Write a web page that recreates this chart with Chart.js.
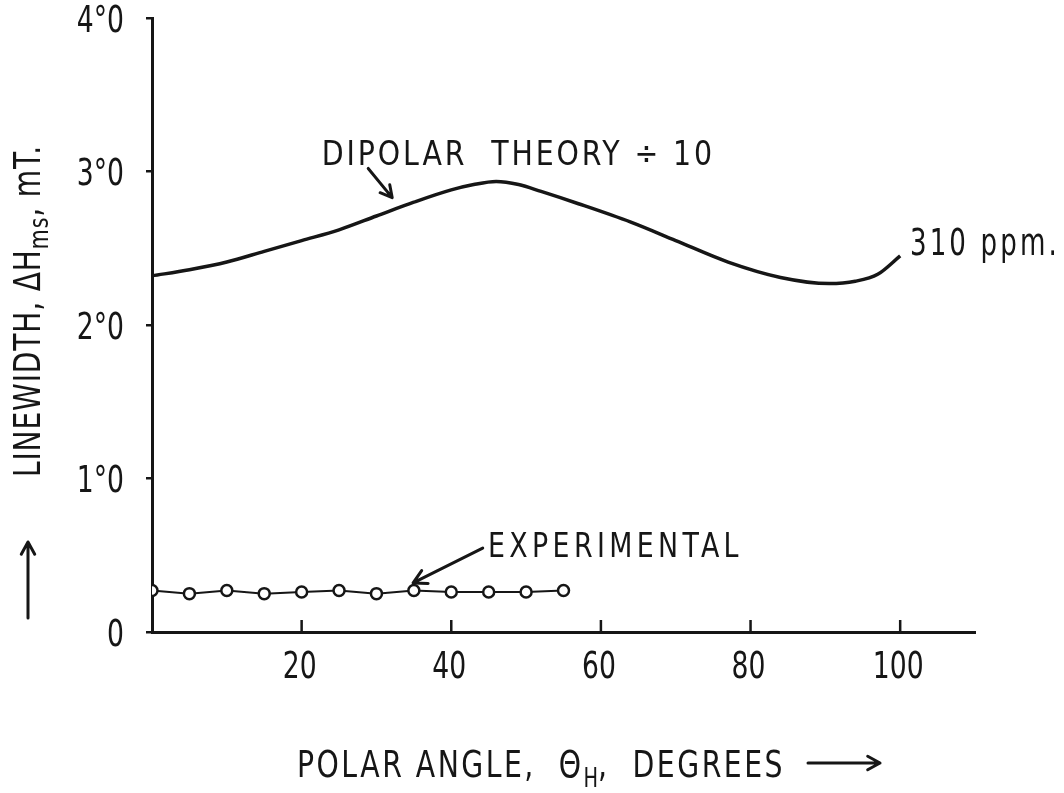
<!DOCTYPE html>
<html>
<head>
<meta charset="utf-8">
<script src="https://cdn.jsdelivr.net/npm/chart.js@4/dist/chart.umd.min.js"></script>
<style>
  html, body { margin: 0; padding: 0; background: #ffffff; }
  #wrap { width: 1064px; height: 793px; }
</style>
</head>
<body>
<div id="wrap"><canvas id="c" width="1064" height="793"></canvas></div>
<script>
// Dipolar theory linewidth (divided by 10) against polar angle, 310 ppm
const theoryAngle = [0, 5, 10, 15, 20, 25, 30, 35, 40, 43, 46, 49, 52, 57, 64, 70, 77, 84, 90.5, 94, 97, 100];
const theoryWidth = [2.32, 2.36, 2.41, 2.48, 2.55, 2.62, 2.71, 2.80, 2.88, 2.915, 2.935, 2.915, 2.87, 2.79, 2.67, 2.55, 2.41, 2.31, 2.27, 2.285, 2.33, 2.45];

// Measured linewidths
const expAngle = [0, 5, 10, 15, 20, 25, 30, 35, 40, 45, 50, 55];
const expWidth = [0.27, 0.25, 0.27, 0.25, 0.26, 0.27, 0.25, 0.27, 0.26, 0.26, 0.26, 0.27];

// Axis ticks
const xTickValues = [20, 40, 60, 80, 100];
const xTickLabels = ['20', '40', '60', '80', '100'];
const yTickValues = [0, 1, 2, 3, 4];
const yTickLabels = ['0', '1°0', '2°0', '3°0', '4°0'];

const INK = '#161616';
const FONT = '"DejaVu Sans Condensed", "DejaVu Sans", sans-serif';
const SQUEEZE = 0.8;   // narrow lettering

function toPoints(xs, ys) {
  return xs.map((x, i) => ({ x: x, y: ys[i] }));
}

function arrow(ctx, x1, y1, x2, y2, head, lw) {
  const a = Math.atan2(y2 - y1, x2 - x1);
  ctx.save();
  ctx.strokeStyle = INK;
  ctx.lineWidth = lw;
  ctx.lineCap = 'round';
  ctx.lineJoin = 'round';
  ctx.beginPath();
  ctx.moveTo(x1, y1);
  ctx.lineTo(x2, y2);
  ctx.moveTo(x2 - head * Math.cos(a - 0.5), y2 - head * Math.sin(a - 0.5));
  ctx.lineTo(x2, y2);
  ctx.lineTo(x2 - head * Math.cos(a + 0.5), y2 - head * Math.sin(a + 0.5));
  ctx.stroke();
  ctx.restore();
}

// Draws a run of text pieces [text, size, dy, spacing] from (x, y), fitted to the given width
function textRun(ctx, pieces, x, y, width) {
  const setFont = p => {
    ctx.font = p[1] + 'px ' + FONT;
    ctx.letterSpacing = (p[3] || 0) + 'px';
  };
  let natural = 0;
  pieces.forEach(p => { setFont(p); natural += ctx.measureText(p[0]).width; });
  const k = width / natural;
  ctx.save();
  ctx.translate(x, y);
  ctx.scale(k, 1);
  ctx.textAlign = 'left';
  ctx.textBaseline = 'alphabetic';
  let cx = 0;
  pieces.forEach(p => {
    setFont(p);
    ctx.fillText(p[0], cx, p[2] || 0);
    cx += ctx.measureText(p[0]).width;
  });
  ctx.restore();
  ctx.letterSpacing = '0px';
}

function squeezedLabel(ctx, text, x, y, size, align) {
  ctx.save();
  ctx.font = size + 'px ' + FONT;
  ctx.translate(x, y);
  ctx.scale(SQUEEZE, 1);
  ctx.textAlign = align;
  ctx.textBaseline = 'middle';
  ctx.fillText(text, 0, 0);
  ctx.restore();
}

// Tick marks and labels, annotations and axis titles
const decorations = {
  id: 'decorations',
  afterDraw(chart) {
    const ctx = chart.ctx;
    const xs = chart.scales.x, ys = chart.scales.y;
    const px = v => xs.getPixelForValue(v);
    const py = v => ys.getPixelForValue(v);
    const area = chart.chartArea;

    ctx.save();
    ctx.strokeStyle = INK;
    ctx.fillStyle = INK;

    // inward ticks on the angle axis
    ctx.lineWidth = 2.5;
    ctx.beginPath();
    xTickValues.forEach(v => {
      ctx.moveTo(px(v), area.bottom);
      ctx.lineTo(px(v), area.bottom - 12);
    });
    ctx.stroke();

    // tick labels
    xTickValues.forEach((v, i) => squeezedLabel(ctx, xTickLabels[i], px(v) - 2, area.bottom + 36, 37, 'center'));
    yTickValues.forEach((v, i) => squeezedLabel(ctx, yTickLabels[i], area.left - 28, py(v) + 4, 37, 'right'));

    // curve labels
    textRun(ctx, [['DIPOLAR  THEORY ÷ 10', 33, 0, 3]], px(22.7), py(3.04), 393);
    arrow(ctx, px(28.9), py(3.02), px(32.1), py(2.83), 13, 3);
    textRun(ctx, [['310 ppm.', 37, 0, 4]], px(101.3), py(2.456), 150);
    textRun(ctx, [['EXPERIMENTAL', 34, 0, 5]], px(44.9), py(0.49), 255);
    arrow(ctx, px(44.2), py(0.547), px(34.9), py(0.32), 15, 3);

    // vertical axis title
    ctx.save();
    ctx.translate(40, 477);
    ctx.rotate(-Math.PI / 2);
    textRun(ctx, [['LINEWIDTH, ΔH', 37, 0, 1], ['ms', 27, 8, 1], [', mT.', 37, 0, 1]], 0, 0, 332);
    ctx.restore();
    arrow(ctx, 28, 618, 28, 542, 14, 3);

    // horizontal axis title
    textRun(ctx, [['POLAR ANGLE,  Θ', 38, 0, 3], ['H', 26, 10, 0], [',  DEGREES', 38, 0, 3]], 297, 777, 488);
    arrow(ctx, 808, 763, 880, 763, 14, 3);

    ctx.restore();
  }
};

new Chart(document.getElementById('c'), {
  type: 'scatter',
  data: {
    datasets: [
      {
        label: 'Dipolar theory ÷ 10',
        data: toPoints(theoryAngle, theoryWidth),
        showLine: true,
        borderColor: INK,
        borderWidth: 3.5,
        pointRadius: 0,
        cubicInterpolationMode: 'monotone',
        fill: false
      },
      {
        label: 'Experimental',
        data: toPoints(expAngle, expWidth),
        showLine: true,
        borderColor: INK,
        borderWidth: 2,
        pointRadius: 5.5,
        pointBorderWidth: 2.5,
        pointBackgroundColor: '#ffffff',
        pointBorderColor: INK,
        tension: 0
      }
    ]
  },
  options: {
    responsive: false,
    animation: false,
    devicePixelRatio: 1,
    layout: { padding: { left: 0, right: 89, top: 18, bottom: 0 } },
    plugins: { legend: { display: false }, tooltip: { enabled: false } },
    scales: {
      x: {
        type: 'linear',
        min: 0,
        max: 110,
        afterBuildTicks: s => { s.ticks = xTickValues.map(v => ({ value: v })); },
        afterFit: s => { s.height = 161; s.paddingLeft = 0; s.paddingRight = 0; },
        grid: { display: true, drawOnChartArea: false, drawTicks: false },
        border: { display: true, color: INK, width: 3 },
        ticks: { display: false }
      },
      y: {
        type: 'linear',
        min: 0,
        max: 4,
        afterBuildTicks: s => { s.ticks = yTickValues.map(v => ({ value: v })); },
        afterFit: s => { s.width = 152; s.paddingTop = 0; s.paddingBottom = 0; },
        grid: { display: true, drawOnChartArea: false, drawTicks: true, tickLength: 6, color: INK, lineWidth: 2.5 },
        border: { display: true, color: INK, width: 3 },
        ticks: { display: false }
      }
    }
  },
  plugins: [decorations]
});
</script>
</body>
</html>
